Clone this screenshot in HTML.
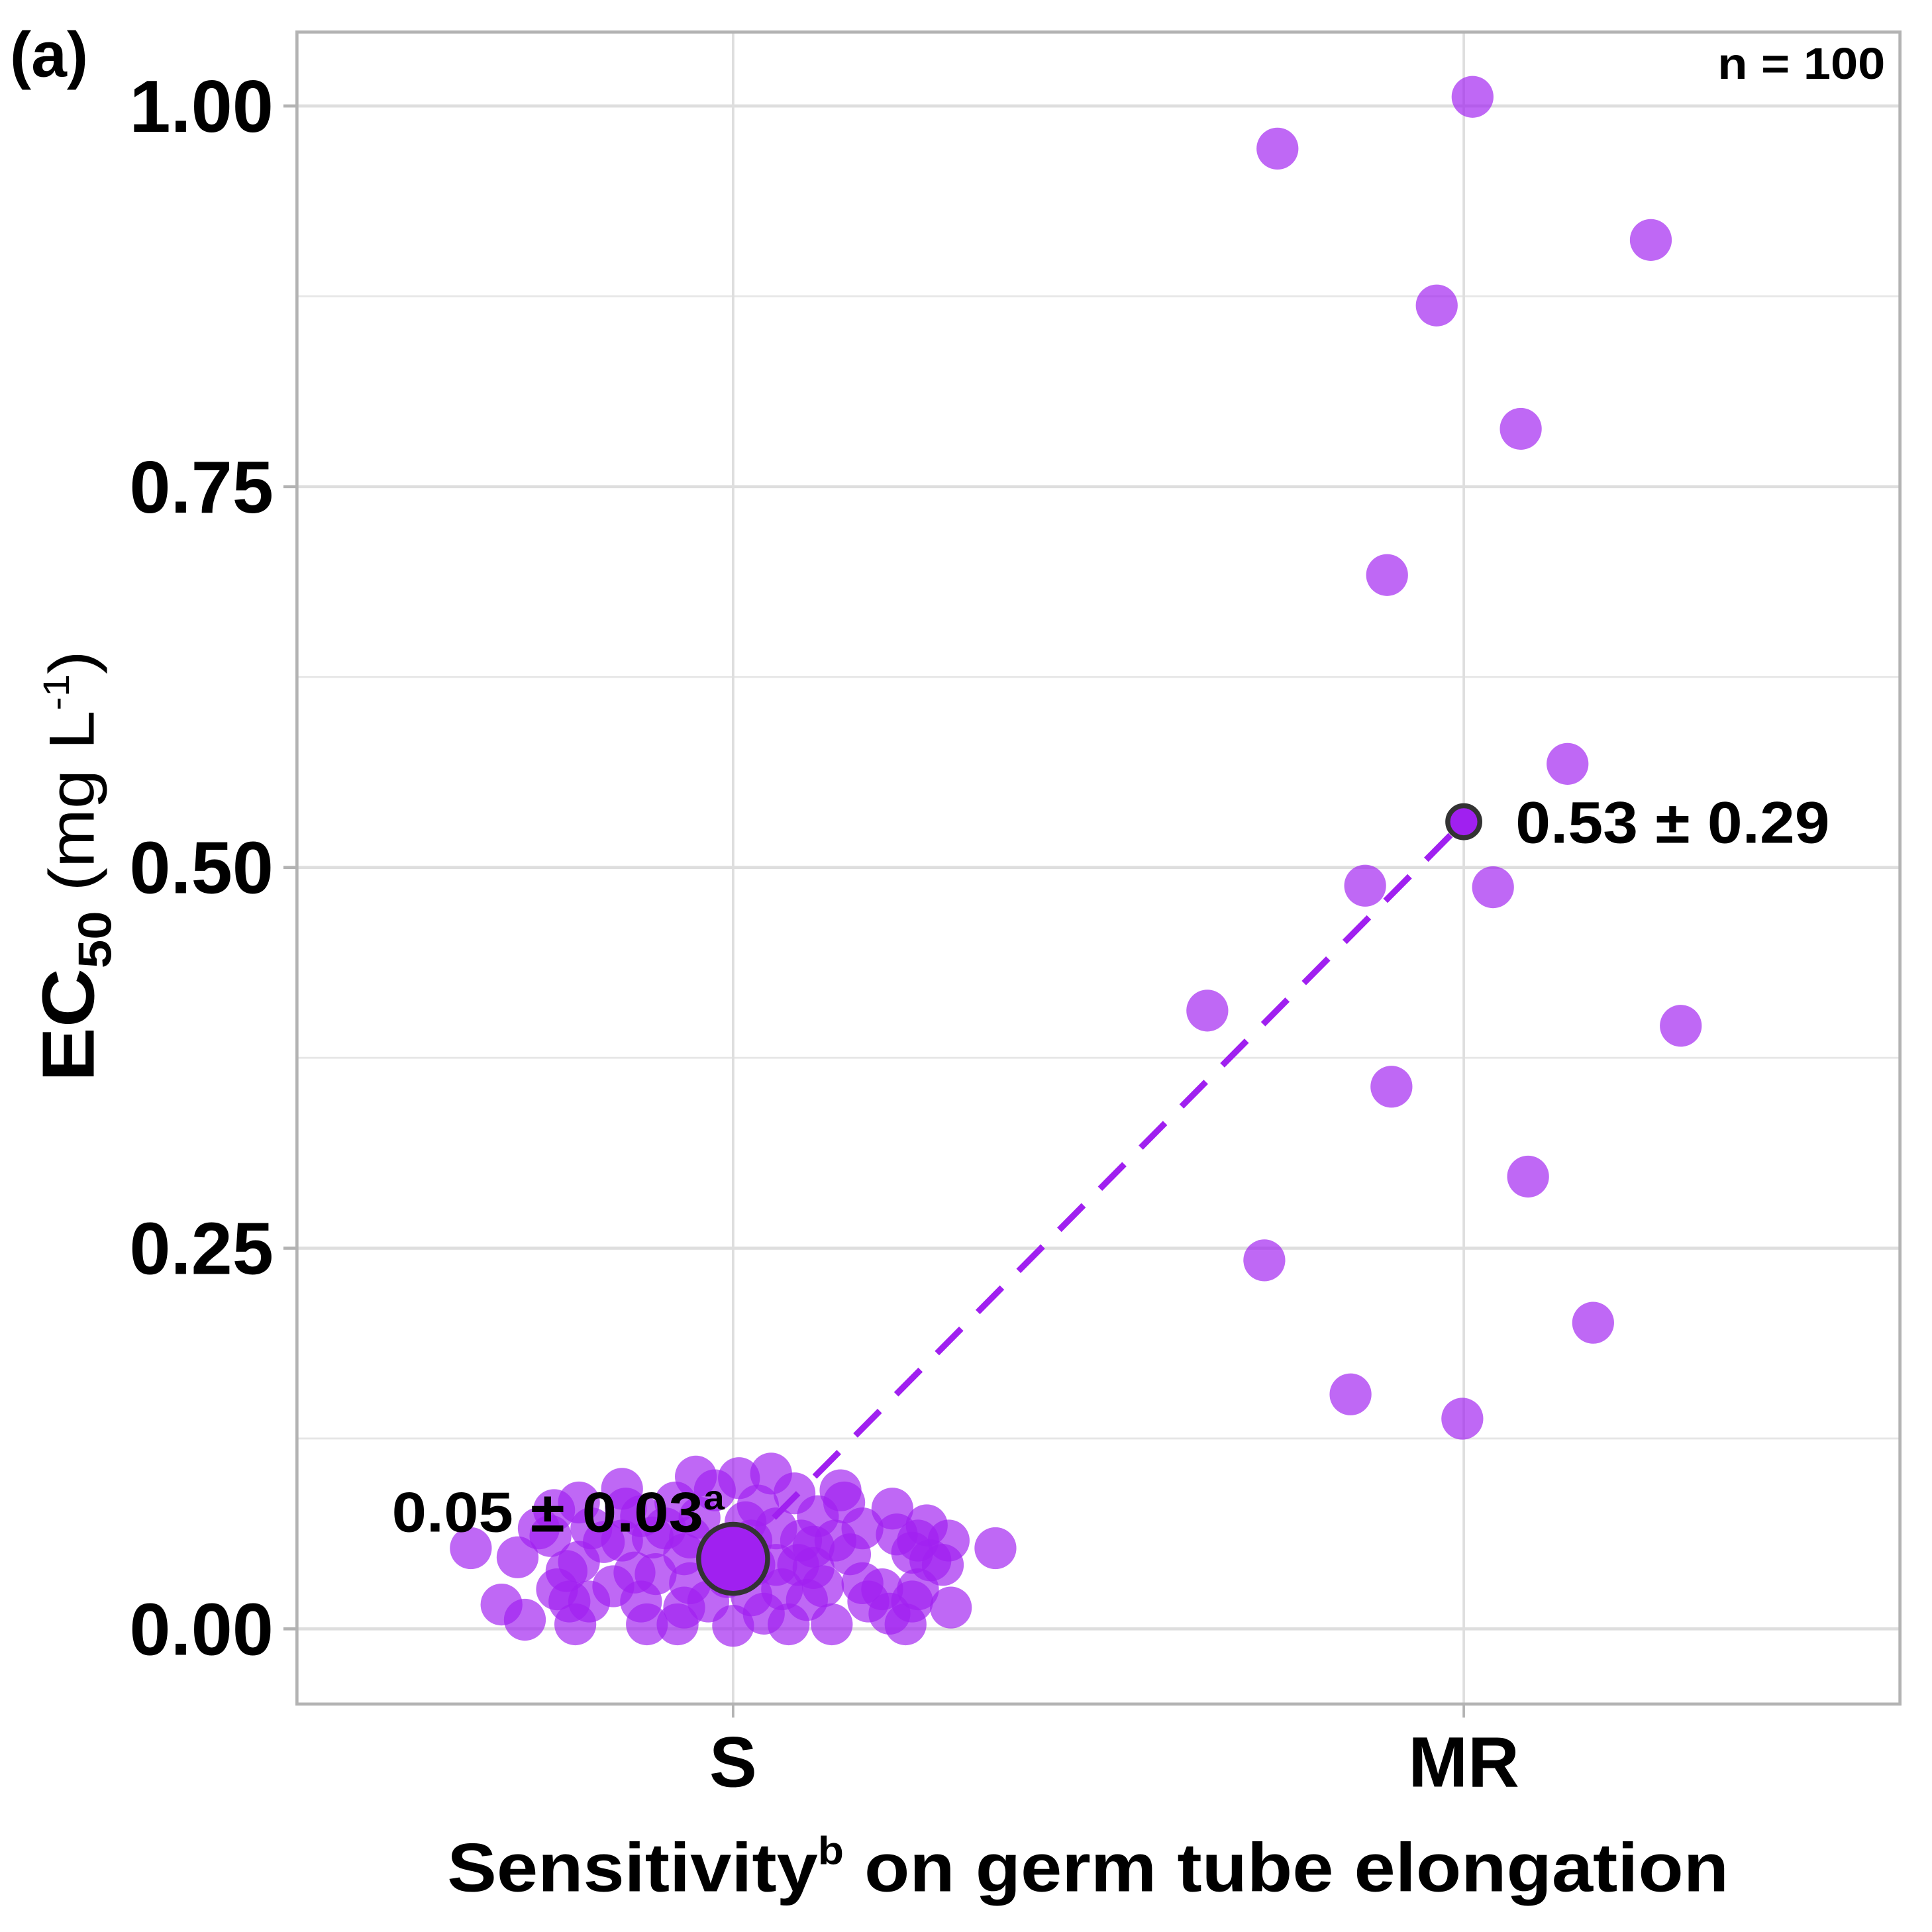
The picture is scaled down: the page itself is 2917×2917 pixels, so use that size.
<!DOCTYPE html>
<html><head><meta charset="utf-8"><style>
html,body{margin:0;padding:0;background:#fff;}
svg{display:block;font-family:"Liberation Sans",sans-serif;font-weight:bold;}
</style></head><body>
<svg id="chart" width="2917" height="2917" viewBox="0 0 1568 1568" preserveAspectRatio="none" xmlns="http://www.w3.org/2000/svg">
<g id="grid"></g>
<g id="marks"></g>
<rect x="241" y="26" width="1301" height="1357" fill="none" stroke="#b3b3b3" stroke-width="2.5"/>
<g id="axes"></g>
<text x="8" y="62" font-size="52">(a)</text>
<text x="1530" y="64" font-size="36" text-anchor="end" textLength="136" lengthAdjust="spacingAndGlyphs">n = 100</text>
<text x="363" y="1535" font-size="56" textLength="1040" lengthAdjust="spacingAndGlyphs">Sensitivity<tspan font-size="32" dy="-22">b</tspan><tspan dy="22"> on germ tube elongation</tspan></text>
<text transform="translate(76,878) rotate(-90)" font-size="60" textLength="350" lengthAdjust="spacingAndGlyphs">EC<tspan font-size="38" dy="14">50</tspan><tspan dy="-14" font-weight="normal" font-size="52"> (mg L</tspan><tspan font-size="30" dy="-20" font-weight="normal">-1</tspan><tspan dy="20" font-weight="normal" font-size="52">)</tspan></text>
</svg>
<script>
const categories = ["S","MR"];
const yTicks = [0, 0.25, 0.5, 0.75, 1.0];
const yTickLabels = ["0.00","0.25","0.50","0.75","1.00"];
const sJitter = [-0.359,-0.317,-0.285,-0.295,-0.266,-0.250,-0.241,-0.224,-0.216,-0.211,-0.194,-0.164,-0.152,-0.147,-0.152,-0.126,-0.118,-0.106,-0.093,-0.079,-0.076,-0.067,-0.051,-0.046,-0.034,0,0.008,0.017,0.029,0.042,0.052,0.059,0.076,0.084,0.089,0.101,0.110,0.116,0.135,0.140,0.147,0.152,0.160,0.185,0.204,0.214,0.218,0.224,0.236,0.245,0.253,0.265,0.270,0.295,0.298,0.359,-0.228,-0.197,-0.177,-0.135,-0.110,-0.059,-0.017,-0.008,0.034,0.067,0.093,0.123,0.177,0.245,-0.245,-0.211,-0.126,-0.059,-0.025,0.025,0.059,0.110,0.177,0.253,0.287,-0.067,0.025];
const sValues = [0.053,0.016,0.006,0.047,0.066,0.061,0.026,0.018,0.003,0.044,0.066,0.028,0.092,0.079,0.058,0.018,0.003,0.036,0.066,0.083,0.003,0.049,0.100,0.073,0.018,0.002,0.099,0.070,0.042,0.010,0.102,0.066,0.003,0.089,0.042,0.019,0.040,0.074,0.003,0.058,0.091,0.083,0.049,0.018,0.026,0.010,0.079,0.062,0.003,0.050,0.026,0.068,0.045,0.058,0.014,0.053,0.038,0.018,0.057,0.037,0.060,0.030,0.050,0.034,0.081,0.026,0.058,0.028,0.030,0.018,0.078,0.083,0.074,0.060,0.091,0.058,0.042,0.054,0.066,0.058,0.042,0.014,0.022];
const mrJitter = [-0.255,0.012,0.256,-0.037,0.078,-0.105,0.142,-0.135,0.040,-0.351,0.297,-0.099,0.088,-0.273,0.177,-0.155,-0.002];
const mrValues = [0.972,1.006,0.912,0.869,0.788,0.692,0.568,0.488,0.487,0.406,0.396,0.356,0.297,0.242,0.201,0.154,0.138];
const means = [0.046, 0.53];
const meanLabels = ["0.05 ± 0.03", "0.53 ± 0.29"];

const NS = "http://www.w3.org/2000/svg";
const yScale = v => 1322 - v * 1236;
const xScale = c => 595 + c * 593;
function mk(tag, attrs, parent){ const e=document.createElementNS(NS,tag); for(const k in attrs) e.setAttribute(k,attrs[k]); parent.appendChild(e); return e; }
const grid=document.getElementById('grid'), marks=document.getElementById('marks'), axes=document.getElementById('axes');

for(let i=0;i<yTicks.length;i++){
  const y=yScale(yTicks[i]);
  const g=mk('line',{x1:241,x2:1542,y1:y,y2:y,stroke:'#dedede','stroke-width':2.5},grid);
  
  
  if(i<yTicks.length-1){
    const ym=yScale((yTicks[i]+yTicks[i+1])/2);
    const gm=mk('line',{x1:241,x2:1542,y1:ym,y2:ym,stroke:'#e6e6e6','stroke-width':1.5},grid);
    
    
  }
  const t=mk('line',{x1:230,x2:241,y1:y,y2:y,stroke:'#b3b3b3','stroke-width':2.5},axes);
  
  
  const lb=mk('text',{x:222,y:y+21,'font-size':60,'text-anchor':'end',textLength:117,lengthAdjust:'spacingAndGlyphs'},axes);
  lb.textContent=yTickLabels[i];
  
  
}
for(let i=0;i<categories.length;i++){
  const x=xScale(i);
  const g=mk('line',{x1:x,x2:x,y1:26,y2:1383,stroke:'#dedede','stroke-width':2},grid);
  
  
  const t=mk('line',{x1:x,x2:x,y1:1383,y2:1394,stroke:'#b3b3b3','stroke-width':2},axes);
  
  
  const lb=mk('text',{x:x,y:1450,'font-size':58,'text-anchor':'middle'},axes);
  lb.textContent=categories[i];
  
  
}
for(let i=0;i<sValues.length;i++){
  const c=mk('circle',{cx:xScale(0+sJitter[i]),cy:yScale(sValues[i]),r:17,fill:'#a020f0','fill-opacity':0.68},marks);
  
  
}
for(let i=0;i<mrValues.length;i++){
  const c=mk('circle',{cx:xScale(1+mrJitter[i]),cy:yScale(mrValues[i]),r:17,fill:'#a020f0','fill-opacity':0.68},marks);
  
  
}
const ln=mk('line',{x1:xScale(0),y1:yScale(means[0]),x2:xScale(1),y2:yScale(means[1]),stroke:'#a020f0','stroke-width':5,'stroke-dasharray':'28 19'},marks);


const m0=mk('circle',{cx:xScale(0),cy:yScale(means[0]),r:28,fill:'#a020f0',stroke:'#333','stroke-width':4},marks);


const m1=mk('circle',{cx:xScale(1),cy:yScale(means[1]),r:13,fill:'#a020f0',stroke:'#333','stroke-width':4},marks);


const l0=mk('text',{x:318,y:yScale(means[0])-22,'font-size':46,textLength:270,lengthAdjust:'spacingAndGlyphs'},marks);
l0.innerHTML=meanLabels[0]+'<tspan font-size="28" dy="-18">a</tspan>';


const l1=mk('text',{x:1230,y:yScale(means[1])+17,'font-size':48,textLength:255,lengthAdjust:'spacingAndGlyphs'},marks);
l1.textContent=meanLabels[1];


</script>
</body></html>
